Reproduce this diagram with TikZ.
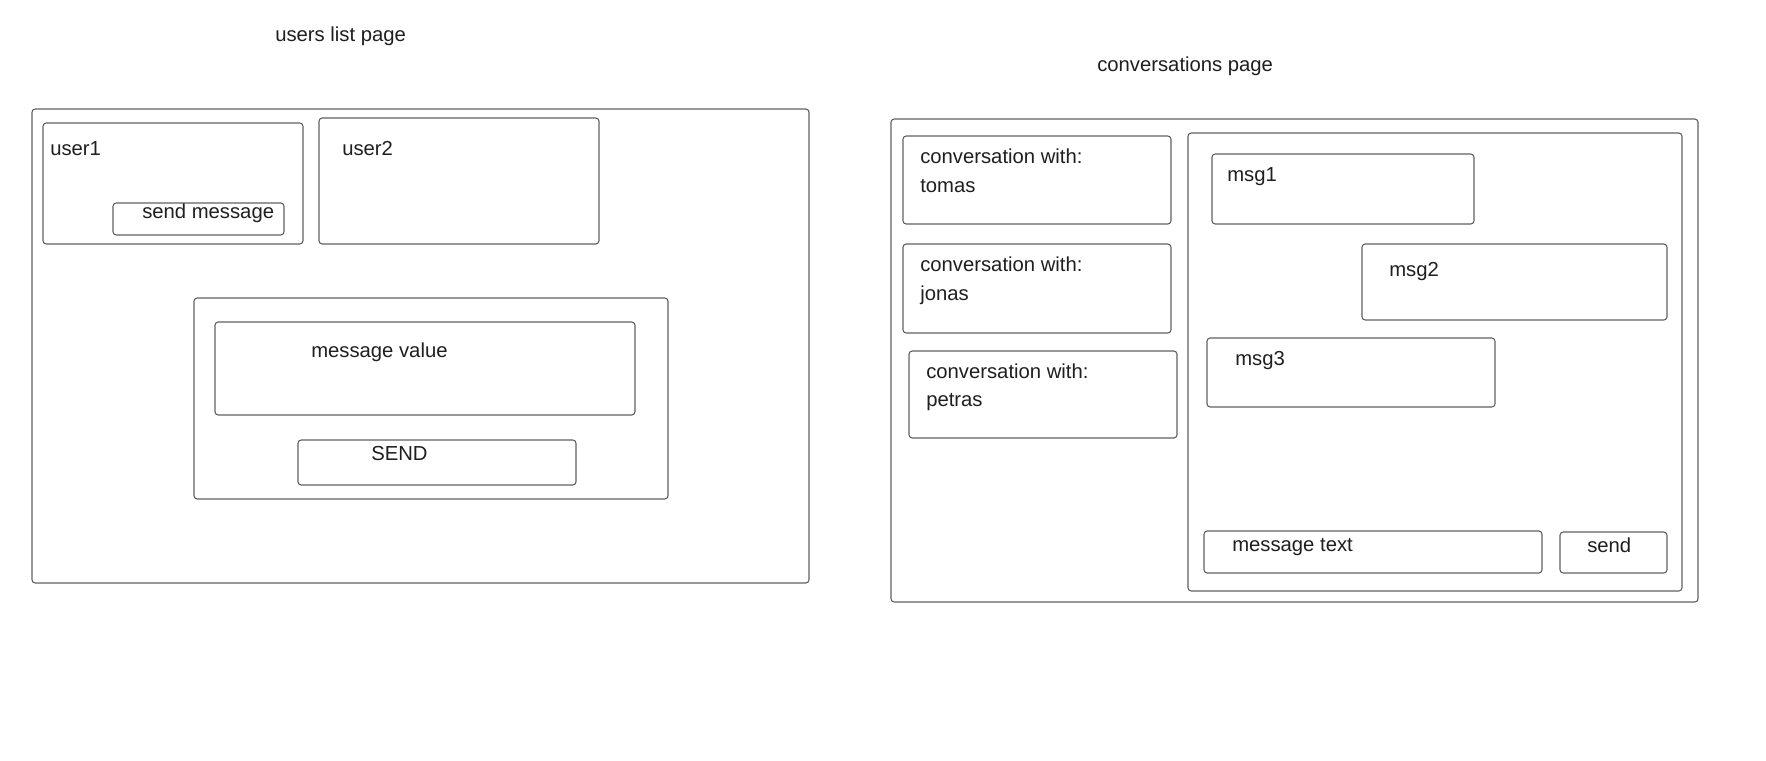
\documentclass[tikz,border=0pt]{standalone}
\usepackage{fontspec}
\setmainfont{Liberation Sans}
\usetikzlibrary{fit}
\tikzset{
  box/.style={draw=black!62, line width=0.8pt, rounded corners=2.4pt, inner sep=0pt, fit={#1}},
  lbl/.style={inner sep=0pt, anchor=base west, text=black!88, font=\fontsize{15.2}{18}\selectfont}
}
\begin{document}
\begin{tikzpicture}[x=0.75pt, y=-0.75pt]
\useasboundingbox (0,0) rectangle (1766,760);
\fill[white] (0,0) rectangle (1766,760);
% ---------- users list page ----------
\node[lbl] (t1) at (275,41) {users list page};
\node[box={(32,109)(809,583)}] (lpage) {};
\node[box={(43,123)(303,244)}] (user1) {};
\node[lbl] (tu1) at (50,155) {user1};
\node[box={(113,203)(284,235)}] (sendmsg) {};
\node[lbl] (tsm) at (142,218) {send message};
\node[box={(319,118)(599,244)}] (user2) {};
\node[lbl] (tu2) at (342,155) {user2};
\node[box={(194,298)(668,499)}] (modal) {};
\node[box={(215,322)(635,415)}] (msgval) {};
\node[lbl] (tmv) at (311,357) {message value};
\node[box={(298,440)(576,485)}] (sendbtn) {};
\node[lbl] (tsb) at (371,460) {SEND};
% ---------- conversations page ----------
\node[lbl] (t2) at (1097,71) {conversations page};
\node[box={(891,119)(1698,602)}] (rpage) {};
\node[box={(903,136)(1171,224)}] (conv1) {};
\node[lbl] (c1a) at (920,163) {conversation with:};
\node[lbl] (c1b) at (920,192) {tomas};
\node[box={(903,244)(1171,333)}] (conv2) {};
\node[lbl] (c2a) at (920,271) {conversation with:};
\node[lbl] (c2b) at (920,300) {jonas};
\node[box={(909,351)(1177,438)}] (conv3) {};
\node[lbl] (c3a) at (926,378) {conversation with:};
\node[lbl] (c3b) at (926,406) {petras};
\node[box={(1188,133)(1682,591)}] (panel) {};
\node[box={(1212,154)(1474,224)}] (msg1) {};
\node[lbl] (m1) at (1227,181) {msg1};
\node[box={(1362,244)(1667,320)}] (msg2) {};
\node[lbl] (m2) at (1389,276) {msg2};
\node[box={(1207,338)(1495,407)}] (msg3) {};
\node[lbl] (m3) at (1235,365) {msg3};
\node[box={(1204,531)(1542,573)}] (msgtext) {};
\node[lbl] (tmt) at (1232,551) {message text};
\node[box={(1560,532)(1667,573)}] (send) {};
\node[lbl] (tsd) at (1587,552) {send};
\end{tikzpicture}
\end{document}
